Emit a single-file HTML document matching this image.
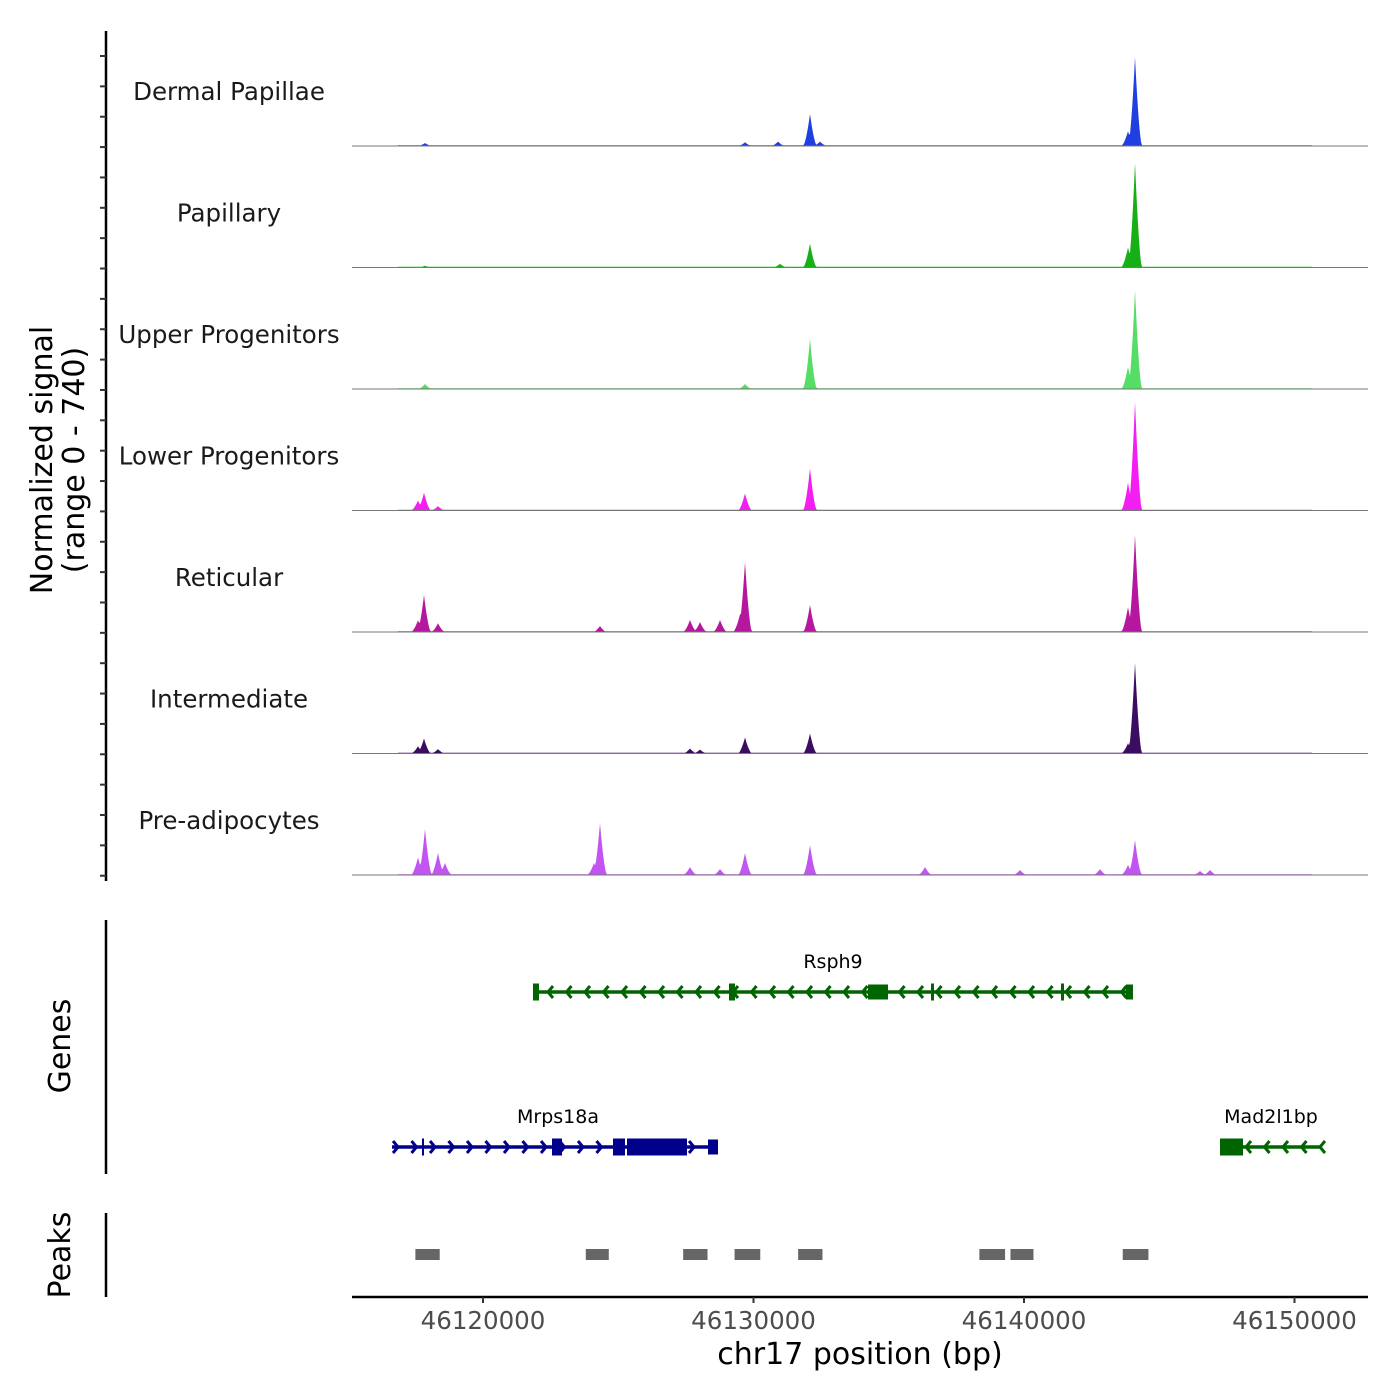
<!DOCTYPE html>
<html><head><meta charset="utf-8"><style>
html,body{margin:0;padding:0;background:#fff;}
svg{display:block;font-family:"DejaVu Sans","Liberation Sans",sans-serif;}
</style></head><body>
<svg id="chart" width="1400" height="1400" viewBox="0 0 1400 1400"></svg>
<script>
const trackNames = ["Dermal Papillae","Papillary","Upper Progenitors","Lower Progenitors","Reticular","Intermediate","Pre-adipocytes"];
const trackColors = ["#1f3fe0","#16b016","#55dd66","#f21ef2","#b5179e","#3b0d62","#c255f2"];
// peaks: [position bp, signal]
const dermalPeaks = [[46144104,605],[46143845,100],[46132089,218],[46132459,30],[46130906,30],[46129686,25],[46117856,20]];
const papillaryPeaks = [[46144104,714],[46143845,136],[46132089,163],[46130980,25],[46117856,12]];
const upperPeaks = [[46144104,673],[46143845,150],[46132089,340],[46129686,34],[46117856,34]];
const lowerPeaks = [[46144104,740],[46143845,190],[46132089,286],[46129686,116],[46117819,122],[46117597,68],[46118336,30]];
const reticularPeaks = [[46144104,660],[46143845,170],[46132089,184],[46129686,476],[46129500,120],[46117819,252],[46117597,80],[46118336,60],[46127653,82],[46128023,68],[46128762,82],[46124325,40]];
const intermediatePeaks = [[46144104,619],[46143845,70],[46132089,136],[46129686,109],[46117819,102],[46117597,50],[46118336,30],[46127653,34],[46128023,27]];
const preadipoPeaks = [[46144104,238],[46143845,68],[46132089,204],[46129686,150],[46124325,354],[46124104,82],[46117856,313],[46117597,120],[46118336,150],[46118595,82],[46136341,54],[46139852,34],[46127653,54],[46128762,40],[46142810,40],[46146507,27],[46146877,34]];
const allPeaks = [dermalPeaks,papillaryPeaks,upperPeaks,lowerPeaks,reticularPeaks,intermediatePeaks,preadipoPeaks];
const xTicks = [46120000,46130000,46140000,46150000];
const peakRegions = [[46117500,46118400],[46123800,46124650],[46127400,46128300],[46129300,46130250],[46131650,46132550],[46138350,46139300],[46139500,46140350],[46143650,46144600]];

const NS="http://www.w3.org/2000/svg";
const svg=document.getElementById('chart');
function el(t,a,p){const e=document.createElementNS(NS,t);for(const k in a)e.setAttribute(k,a[k]);(p||svg).appendChild(e);return e;}
const xs = bp => 483 + (bp-46120000)*0.02705;
const baseY = i => 146 + i*121.5;
const ys = v => v*0.147;

// left axis
let ax=el('line',{x1:106,y1:31,x2:106,y2:881,stroke:'#000','stroke-width':2.5});

for(let y=56;y<=880;y+=30.36){const t=el('line',{x1:100,y1:y,x2:106,y2:y,stroke:'#333','stroke-width':2});
}
let yt=el('text',{transform:'translate(52,460) rotate(-90)','text-anchor':'middle','font-size':30,fill:'#000'});

el('tspan',{x:0,dy:0},yt).textContent='Normalized signal';
el('tspan',{x:0,dy:32},yt).textContent='(range 0 - 740)';

allPeaks.forEach((pk,i)=>{
  const g=el('g',{});
  
  
  const b=baseY(i);
  let pts=[[398,b]];
  for(let x=398;x<=1312;x+=1){
    let h=0;
    pk.forEach(p=>{const d=Math.abs(x-xs(p[0]));const w=3.2;if(d<w*2.2)h=Math.max(h,ys(p[1])*Math.max(0,1-d/(w*2.2))**1.6);});
    pts.push([x,b-Math.max(h,0.8)]);
  }
  pts.push([1312,b]);
  const poly=el('polygon',{points:pts.map(p=>p[0]+','+p[1].toFixed(1)).join(' '),fill:trackColors[i]},g);
  
  const bl=el('line',{x1:352,y1:b,x2:1368,y2:b,stroke:'#777','stroke-width':1},g);
  
  const lab=el('text',{x:229,y:b-46,'text-anchor':'middle','font-size':24.5,fill:'#1a1a1a'},g);
  
  lab.textContent=trackNames[i];
});

// genes panel
let ga=el('line',{x1:106,y1:920,x2:106,y2:1174,stroke:'#000','stroke-width':2.5});

let gt=el('text',{transform:'translate(70,1046) rotate(-90)','text-anchor':'middle','font-size':30});
gt.textContent='Genes';
function gene(name,x1,x2,y,color,dir,exons,lx,arrows){
  const g=el('g',{});
  
  
  el('line',{x1:x1,y1:y,x2:x2,y2:y,stroke:color,'stroke-width':3.5},g);
  arrows.forEach(a=>{const d=dir*5;el('polyline',{points:`${a-d},${y-6} ${a},${y} ${a-d},${y+6}`,fill:'none',stroke:color,'stroke-width':3},g);});
  exons.forEach(e=>el('rect',{x:e[0],y:y-e[2]/2,width:e[1]-e[0],height:e[2],fill:color},g));
  const t=el('text',{x:lx,y:y-24,'text-anchor':'middle','font-size':19,fill:'#000'},g);t.textContent=name;
}
let ar=[];for(let a=548;a<1125;a+=18.5)ar.push(a);
gene('Rsph9',535,1132,992,'#006400',-1,[[533,539,17],[729,735,17],[868,888,15],[931,934,17],[1061,1064,17],[1126,1133,15]],833,ar);
ar=[];for(let a=398;a<712;a+=18.5)if(!(a>552&&a<562)&&!(a>612&&a<688))ar.push(a);
gene('Mrps18a',392,718,1147,'#00008b',1,[[422,424,17],[552,562,17],[613,625,17],[627,687,17],[708,718,15]],558,ar);
ar=[];for(let a=1246;a<1322;a+=18.5)ar.push(a);
gene('Mad2l1bp',1220,1322,1147,'#006400',-1,[[1220,1243,17]],1271,ar);

// peaks panel
let pa=el('line',{x1:106,y1:1213,x2:106,y2:1297,stroke:'#000','stroke-width':2.5});

let pt=el('text',{transform:'translate(70,1255) rotate(-90)','text-anchor':'middle','font-size':30});
pt.textContent='Peaks';
peakRegions.forEach(r=>{const e=el('rect',{x:xs(r[0]),y:1249,width:xs(r[1])-xs(r[0]),height:11,fill:'#666'});
});

// x axis
let xa=el('line',{x1:352,y1:1297,x2:1368,y2:1297,stroke:'#000','stroke-width':2.5});

xTicks.forEach(t=>{const x=xs(t);
const tk=el('line',{x1:x,y1:1297,x2:x,y2:1303,stroke:'#333','stroke-width':2});

const l=el('text',{x:x,y:1329,'text-anchor':'middle','font-size':24.5,fill:'#4d4d4d'});
l.textContent=t;});
let xt=el('text',{x:860,y:1364,'text-anchor':'middle','font-size':30});
xt.textContent='chr17 position (bp)';
</script>
</body></html>
